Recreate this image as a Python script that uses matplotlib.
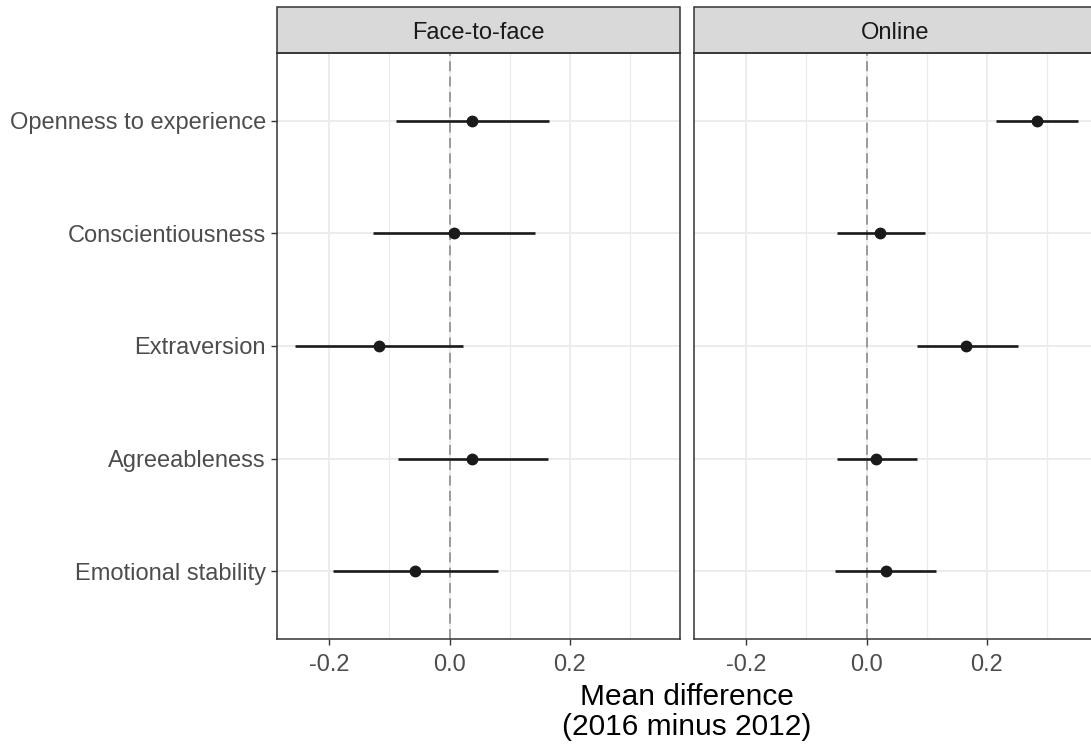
import numpy as np
import matplotlib
matplotlib.use("Agg")
import matplotlib.pyplot as plt
from matplotlib.patches import Rectangle

plt.rcParams['font.family'] = ['Liberation Sans', 'DejaVu Sans']

traits = ['Openness to experience', 'Conscientiousness', 'Extraversion',
          'Agreeableness', 'Emotional stability']
modes = ['Face-to-face', 'Online']

# mean difference and interval bounds per trait, one list per mode
f2f_mean = [0.038, 0.008, -0.118, 0.038, -0.057]
f2f_low = [-0.089, -0.127, -0.257, -0.086, -0.194]
f2f_high = [0.165, 0.142, 0.022, 0.163, 0.080]

online_mean = [0.284, 0.023, 0.166, 0.016, 0.033]
online_low = [0.215, -0.050, 0.084, -0.049, -0.052]
online_high = [0.352, 0.097, 0.252, 0.083, 0.116]

major_ticks = [-0.2, 0.0, 0.2]
minor_ticks = [-0.1, 0.1, 0.3]

W, H = 1091, 746
fig = plt.figure(figsize=(W / 100, H / 100), dpi=100)

panel_w = 403
panel_top, panel_bot = 53, 639
lefts = [277, 694]

series = [(f2f_mean, f2f_low, f2f_high), (online_mean, online_low, online_high)]
ypos = np.arange(len(traits))[::-1] + 1

for i, (mode, (m, lo, hi)) in enumerate(zip(modes, series)):
    ax = fig.add_axes([lefts[i] / W, (H - panel_bot) / H,
                       panel_w / W, (panel_bot - panel_top) / H])
    ax.set_xlim(-0.287, 0.383)
    ax.set_ylim(0.4, 5.6)
    ax.set_axisbelow(True)

    ax.set_xticks(major_ticks)
    ax.set_xticks(minor_ticks, minor=True)
    ax.set_xticklabels([f"{t:.1f}" for t in major_ticks])
    ax.grid(True, which='major', axis='both', color='#EBEBEB', lw=1.3)
    ax.grid(True, which='minor', axis='x', color='#EBEBEB', lw=0.9)
    ax.tick_params(which='minor', length=0)
    ax.tick_params(which='major', length=4, width=1.0, color='#333333',
                   labelsize=17, labelcolor='#4D4D4D')
    ax.tick_params(axis='x', pad=7)
    ax.tick_params(axis='y', pad=4)

    ax.set_yticks(ypos)
    if i == 0:
        ax.set_yticklabels(traits)
    else:
        ax.set_yticklabels([])
        ax.tick_params(axis='y', length=0)

    for s in ax.spines.values():
        s.set_color('#333333')
        s.set_linewidth(1.1)

    ax.axvline(0, color='#949494', lw=1.3, ls=(0, (5.5, 3)), zorder=1)
    ax.hlines(ypos, lo, hi, color='#1A1A1A', lw=1.9, zorder=2)
    ax.plot(m, ypos, 'o', color='#1A1A1A', ms=7.5, zorder=3)

    # facet strip above the panel
    strip_h = 46 / (panel_bot - panel_top)
    ax.add_patch(Rectangle((0, 1), 1, strip_h, transform=ax.transAxes,
                           facecolor='#D9D9D9', edgecolor='#333333', lw=1.1,
                           clip_on=False))
    ax.text(0.5, 1 + (strip_h / 2) - 3 / (panel_bot - panel_top), mode,
            transform=ax.transAxes, ha='center', va='center',
            fontsize=17, color='#1A1A1A')

fig.text(687 / W, 1 - 697 / H, 'Mean difference', ha='center', va='center',
         fontsize=21.5, color='black')
fig.text(687 / W, 1 - 727 / H, '(2016 minus 2012)', ha='center', va='center',
         fontsize=21.5, color='black')

fig.savefig('out.png', dpi=100)
